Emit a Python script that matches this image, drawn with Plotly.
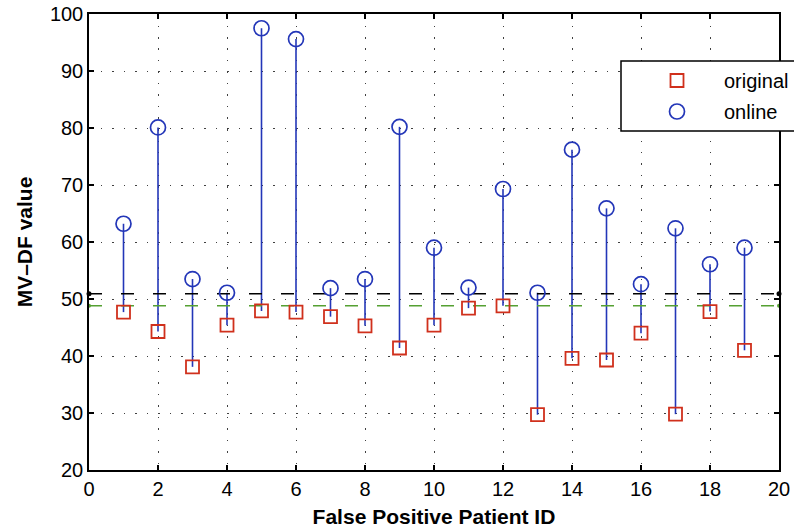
import plotly.graph_objects as go

patient_id = list(range(1, 20))
original = [47.7, 44.3, 38.1, 45.4, 47.9, 47.7, 46.9, 45.3, 41.4, 45.4,
            48.4, 48.8, 29.7, 39.6, 39.3, 44.0, 29.8, 47.8, 41.0]
online = [63.2, 80.1, 53.5, 51.1, 97.5, 95.6, 51.9, 53.5, 80.2, 59.0,
          52.0, 69.3, 51.1, 76.2, 65.9, 52.6, 62.4, 56.1, 59.0]
thr_black = 50.9
thr_green = 48.8
x_range = [0, 20]
y_range = [20, 100]
x_ticks = list(range(0, 21, 2))
y_ticks = list(range(20, 101, 10))

BLUE = "#2336b8"
RED = "#d0301c"
GREEN = "#55a032"
FONT = "Liberation Sans, Arial, sans-serif"

stem_x, stem_y = [], []
for i, o, n in zip(patient_id, original, online):
    stem_x += [i, i, None]
    stem_y += [o, n, None]

fig = go.Figure()
fig.add_trace(go.Scatter(x=stem_x, y=stem_y, mode="lines",
                         line=dict(color=BLUE, width=1.6),
                         showlegend=False, hoverinfo="skip"))
fig.add_trace(go.Scatter(x=x_range, y=[thr_black, thr_black], mode="lines+markers",
                         line=dict(color="black", width=1.5, dash="13px,19px"),
                         marker=dict(color="black", size=5),
                         showlegend=False, cliponaxis=False))
fig.add_trace(go.Scatter(x=x_range, y=[thr_green, thr_green], mode="lines+markers",
                         line=dict(color=GREEN, width=1.5, dash="13px,19px"),
                         marker=dict(color=GREEN, size=4),
                         showlegend=False, cliponaxis=False))
fig.add_trace(go.Scatter(x=patient_id, y=original, mode="markers", name="original",
                         legendgroup="a",
                         marker=dict(symbol="square-open", size=13,
                                     line=dict(color=RED, width=1.8), color=RED)))
fig.add_trace(go.Scatter(x=patient_id, y=online, mode="markers", name="online",
                         legendgroup="b",
                         marker=dict(symbol="circle-open", size=15,
                                     line=dict(color=BLUE, width=1.7), color=BLUE)))

axis_common = dict(
    showline=True, linecolor="black", linewidth=1.5, mirror="ticks",
    ticks="inside", ticklen=5, tickwidth=1.5, tickcolor="black",
    showgrid=True, gridcolor="rgba(0,0,0,0.75)", gridwidth=1, griddash="1.5px,10px",
    zeroline=False,
    tickfont=dict(family=FONT, size=20, color="black"),
)
fig.update_xaxes(range=x_range, tickvals=x_ticks, **axis_common,
                 title=dict(text="<b>False Positive Patient ID</b>", standoff=11,
                            font=dict(family=FONT, size=21, color="black")))
fig.update_yaxes(range=y_range, tickvals=y_ticks, **axis_common,
                 title=dict(text="<b>MV\u2013DF value</b>", standoff=12,
                            font=dict(family=FONT, size=21, color="black")))

# legend box (extends past the right edge like the original)
fig.add_shape(type="rect", xref="paper", yref="paper",
              x0=(621 - 89) / 690, x1=1.3, y0=(470 - 131) / 456, y1=(470 - 61) / 456,
              fillcolor="white", line=dict(color="black", width=1.5), layer="above")

fig.update_layout(
    width=794, height=529,
    margin=dict(l=89, r=15, t=14, b=59, autoexpand=False),
    paper_bgcolor="white", plot_bgcolor="white",
    showlegend=True,
    legend=dict(x=(630 - 89) / 690, y=(470 - 61) / 456, xanchor="left", yanchor="top",
                bgcolor="rgba(0,0,0,0)", borderwidth=0,
                traceorder="grouped", tracegroupgap=2, itemwidth=84,
                font=dict(family=FONT, size=20, color="black")),
)

fig.write_html("out.html")
